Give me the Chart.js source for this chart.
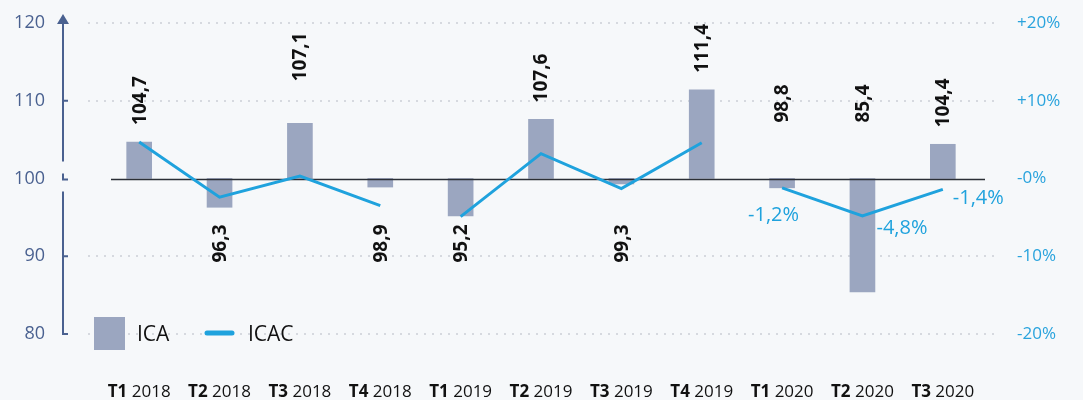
<!DOCTYPE html>
<html>
<head>
<meta charset="utf-8">
<script src="https://cdn.jsdelivr.net/npm/chart.js@4.4.1/dist/chart.umd.min.js"></script>
<style>
  html, body { margin: 0; padding: 0; background: #f6f8fa; }
  .chart-wrap { position: relative; width: 1083px; height: 400px; }
</style>
</head>
<body>
<div class="chart-wrap"><canvas id="icaChart"></canvas></div>
<script>
// data
const quarters = ['T1', 'T2', 'T3', 'T4', 'T1', 'T2', 'T3', 'T4', 'T1', 'T2', 'T3'];
const years = ['2018', '2018', '2018', '2018', '2019', '2019', '2019', '2019', '2020', '2020', '2020'];
const icaValues = [104.7, 96.3, 107.1, 98.9, 95.2, 107.6, 99.3, 111.4, 98.8, 85.4, 104.4];
const icacValues = [4.7, -2.4, 0.3, -3.5, -4.9, 3.2, -1.3, 4.6, -1.2, -4.8, -1.4];
const baseValue = 100;
const yTickValues = [80, 90, 100, 110, 120];
const pctTickValues = [-20, -10, 0, 10, 20];
const pctTickLabels = ['-20%', '-10%', '-0%', '+10%', '+20%'];
const labelledYear = '2020';

const FONT = '"Open Sans", sans-serif';
const barColor = '#9ba6c0';
const lineColor = '#1fa2dd';
const axisColor = '#4a6190';

const fmt = v => String(v).replace('.', ',');

const decorPlugin = {
    id: 'decor',
    beforeDatasetsDraw(chart) {
        const { ctx, chartArea, scales: { y } } = chart;
        ctx.save();
        ctx.strokeStyle = '#d6d9df';
        ctx.lineWidth = 2;
        ctx.setLineDash([2, 6]);
        yTickValues.forEach(v => {
            if (v === baseValue) return;
            const py = Math.round(y.getPixelForValue(v));
            ctx.beginPath();
            ctx.moveTo(chartArea.left - 11, py);
            ctx.lineTo(chartArea.right + 12, py);
            ctx.stroke();
        });
        ctx.restore();
    },
    afterDatasetDraw(chart, args) {
        if (args.meta.type !== 'bar') return;
        const { ctx, chartArea, scales: { y } } = chart;
        const py = Math.round(y.getPixelForValue(baseValue)) + 0.5;
        ctx.save();
        ctx.strokeStyle = '#2b2f36';
        ctx.lineWidth = 1.5;
        ctx.beginPath();
        ctx.moveTo(chartArea.left + 12, py);
        ctx.lineTo(chartArea.right + 2, py);
        ctx.stroke();
        ctx.restore();
    },
    afterDraw(chart, args, opts) {
        const { ctx, chartArea, scales: { x, y } } = chart;
        const barMeta = chart.getDatasetMeta(1);
        const lineMeta = chart.getDatasetMeta(0);
        const base = y.getPixelForValue(baseValue);
        ctx.save();

        // left axis with arrow and break at 100
        const ax = chartArea.left - 36;
        const yTop = y.getPixelForValue(120);
        const yBot = y.getPixelForValue(80);
        ctx.strokeStyle = axisColor;
        ctx.fillStyle = axisColor;
        ctx.lineWidth = 2;
        ctx.beginPath();
        ctx.moveTo(ax, yBot); ctx.lineTo(ax, base + 13);
        ctx.moveTo(ax, base - 17); ctx.lineTo(ax, yTop);
        ctx.moveTo(ax, base - 5); ctx.lineTo(ax, base + 1); ctx.lineTo(ax + 5, base + 1);
        [90, 110].forEach(v => {
            const p = y.getPixelForValue(v);
            ctx.moveTo(ax, p); ctx.lineTo(ax + 5, p);
        });
        ctx.moveTo(ax - 1, yBot); ctx.lineTo(ax + 5, yBot);
        ctx.stroke();
        ctx.beginPath();
        ctx.moveTo(ax, yTop - 9); ctx.lineTo(ax + 6, yTop + 1); ctx.lineTo(ax - 6, yTop + 1);
        ctx.closePath();
        ctx.fill();

        // ICA value labels, rotated
        ctx.fillStyle = '#111';
        ctx.font = 'bold 19px ' + FONT;
        ctx.textBaseline = 'middle';
        barMeta.data.forEach((bar, i) => {
            const v = icaValues[i];
            const props = bar.getProps(['x', 'y', 'base'], true);
            let anchor, align;
            if (v >= baseValue) {
                anchor = props.y - opts.labelGap - (opts.labelExtra[i] || 0);
                align = 'left';
            } else if (years[i] === labelledYear) {
                anchor = base - 56;
                align = 'left';
            } else {
                anchor = Math.max(props.y + 20, base + 46);
                align = 'right';
            }
            ctx.save();
            ctx.translate(props.x + 1, anchor);
            ctx.rotate(-Math.PI / 2);
            ctx.textAlign = align;
            ctx.fillText(fmt(v), 0, 0);
            ctx.restore();
        });

        // ICAC value labels for the last year
        ctx.fillStyle = lineColor;
        ctx.font = '20px ' + FONT;
        let k = 0;
        lineMeta.data.forEach((pt, i) => {
            if (years[i] !== labelledYear) return;
            const o = opts.pctLabelOffsets[k++];
            ctx.textAlign = o.align;
            ctx.fillText(fmt(icacValues[i]) + '%', pt.x + o.dx, pt.y + o.dy);
        });

        // x labels: bold quarter + regular year
        ctx.fillStyle = '#111';
        ctx.textAlign = 'left';
        ctx.textBaseline = 'alphabetic';
        quarters.forEach((q, i) => {
            const cx = x.getPixelForValue(i);
            ctx.font = 'bold 17px ' + FONT;
            const wq = ctx.measureText(q).width;
            ctx.font = '17px ' + FONT;
            const wy = ctx.measureText(' ' + years[i]).width;
            const left = cx - (wq + wy) / 2;
            ctx.font = 'bold 17px ' + FONT;
            ctx.fillText(q, left, 397);
            ctx.font = '17px ' + FONT;
            ctx.fillText(' ' + years[i], left + wq, 397);
        });

        // legend
        const ly = y.getPixelForValue(80);
        ctx.fillStyle = barColor;
        ctx.fillRect(chartArea.left - 5, ly - 17, 31, 33);
        ctx.fillStyle = '#111';
        ctx.font = '21px ' + FONT;
        ctx.textBaseline = 'middle';
        ctx.fillText('ICA', chartArea.left + 38, ly + 1);
        ctx.strokeStyle = lineColor;
        ctx.lineWidth = 5;
        ctx.lineCap = 'round';
        ctx.beginPath();
        ctx.moveTo(chartArea.left + 108, ly - 1);
        ctx.lineTo(chartArea.left + 133, ly - 1);
        ctx.stroke();
        ctx.fillText('ICAC', chartArea.left + 149, ly + 1);

        ctx.restore();
    }
};

// fixed axis widths; drop the vertical padding that the big tick padding adds
const fitAxis = w => s => { s.width = w; s.paddingTop = 0; s.paddingBottom = 0; };

new Chart(document.getElementById('icaChart').getContext('2d'), {
    type: 'bar',
    data: {
        labels: quarters.map((q, i) => q + ' ' + years[i]),
        datasets: [{
            type: 'line',
            label: 'ICAC',
            data: icacValues,
            yAxisID: 'y2',
            borderColor: lineColor,
            borderWidth: 3,
            pointRadius: 0,
            tension: 0,
            segment: {
                borderColor: c => years[c.p0DataIndex] !== years[c.p1DataIndex] ? 'rgba(0,0,0,0)' : lineColor
            },
            order: 0
        }, {
            type: 'bar',
            label: 'ICA',
            data: icaValues.map(v => [baseValue, v]),
            yAxisID: 'y',
            backgroundColor: barColor,
            barThickness: 25,
            order: 1
        }]
    },
    options: {
        responsive: true,
        maintainAspectRatio: false,
        animation: false,
        layout: { padding: { top: 23, bottom: 66, left: 0, right: 0 } },
        plugins: {
            legend: { display: false },
            tooltip: { enabled: false },
            decor: {
                labelGap: 17,
                labelExtra: { 2: 25 },
                pctLabelOffsets: [
                    { dx: 17, dy: 27, align: 'right' },
                    { dx: 14, dy: 12, align: 'left' },
                    { dx: 10, dy: 9, align: 'left' }
                ]
            }
        },
        scales: {
            x: { display: false, offset: true, ticks: { display: false }, grid: { display: false } },
            y: {
                position: 'left',
                min: 80, max: 120,
                afterBuildTicks: s => { s.ticks = yTickValues.map(v => ({ value: v })); },
                afterFit: fitAxis(99),
                grid: { display: false, drawTicks: false },
                border: { display: false },
                ticks: { padding: 54, color: axisColor, font: { family: FONT, size: 18 } }
            },
            y2: {
                position: 'right',
                min: -20, max: 20,
                afterBuildTicks: s => { s.ticks = pctTickValues.map(v => ({ value: v })); },
                afterFit: fitAxis(100),
                grid: { display: false, drawTicks: false },
                border: { display: false },
                ticks: {
                    padding: 34,
                    color: '#29a3dd',
                    font: { family: FONT, size: 17 },
                    callback: v => pctTickLabels[pctTickValues.indexOf(v)]
                }
            }
        }
    },
    plugins: [decorPlugin]
});
</script>
</body>
</html>
